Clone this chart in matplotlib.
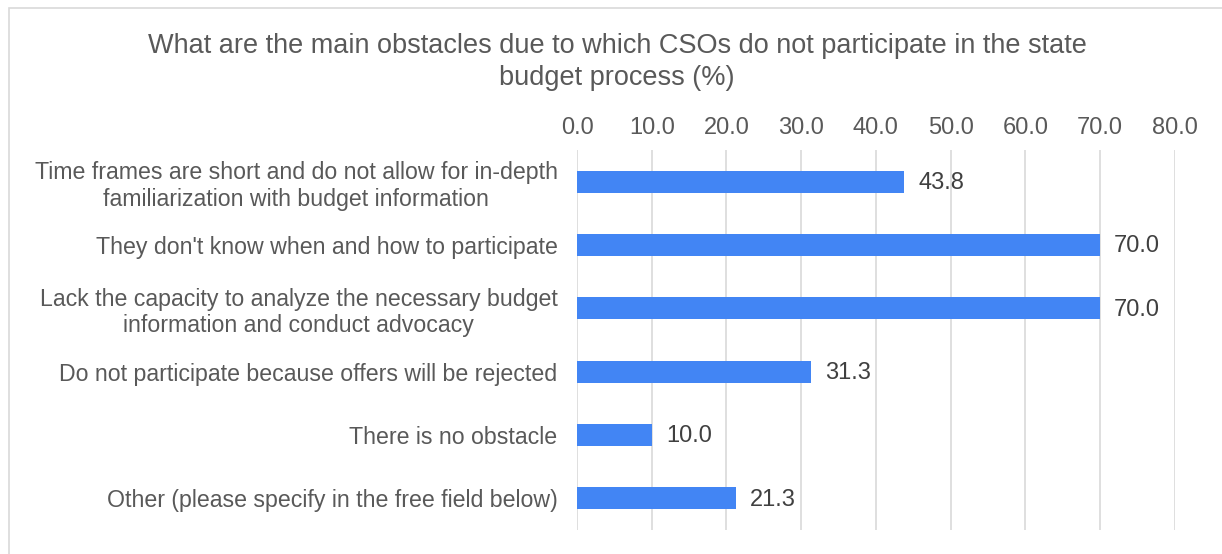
import matplotlib
matplotlib.use("Agg")
import matplotlib.pyplot as plt
from matplotlib.patches import Rectangle

plt.rcParams['font.family'] = ['Liberation Sans', 'DejaVu Sans']

categories = [
    "Time frames are short and do not allow for in-depth\nfamiliarization with budget information",
    "They don't know when and how to participate",
    "Lack the capacity to analyze the necessary budget\ninformation and conduct advocacy",
    "Do not participate because offers will be rejected",
    "There is no obstacle",
    "Other (please specify in the free field below)",
]
values = [43.8, 70.0, 70.0, 31.3, 10.0, 21.3]
ticks = [0, 10, 20, 30, 40, 50, 60, 70, 80]
title = "What are the main obstacles due to which CSOs do not participate in the state\nbudget process (%)"

W, H = 1222, 554
fig = plt.figure(figsize=(W / 100, H / 100), dpi=100)
fig.patch.set_facecolor("white")

# chart frame
fig.patches.append(Rectangle((9 / W, -0.1), 1.2, 1 - 8 / H + 0.1,
                             transform=fig.transFigure, fill=False,
                             edgecolor="#d9d9d9", linewidth=1.2))

ax = fig.add_axes([577 / W, 1 - 530 / H, (1174.7 - 577) / W, (530 - 150) / H])
ypos = list(range(len(categories)))
ax.barh(ypos, values, height=0.35, color="#4285F4", zorder=3)
ax.set_ylim(len(categories) - 0.5, -0.5)
ax.set_xlim(0, 80)
ax.set_xticks(ticks)
ax.set_xticklabels([f"{t:.1f}" for t in ticks])
ax.xaxis.tick_top()
ax.tick_params(axis="x", length=0, pad=8, labelsize=17, labelcolor="#595959")
ax.set_yticks(ypos)
ax.set_yticklabels(categories, multialignment="center")
ax.tick_params(axis="y", length=0, labelsize=16.7, labelcolor="#595959", pad=14)
ax.grid(axis="x", color="#d9d9d9", linewidth=1.2, zorder=0)
for s in ax.spines.values():
    s.set_visible(False)

for y, v in zip(ypos, values):
    ax.text(v + 1.9, y + 0.02, f"{v:.1f}", va="center", ha="left", fontsize=17, color="#404040")

fig.text(617 / W, 1 - 62 / H, title, ha="center", va="center", fontsize=19.5,
         color="#595959", linespacing=1.32)

fig.savefig("out.png", dpi=100, facecolor="white")
